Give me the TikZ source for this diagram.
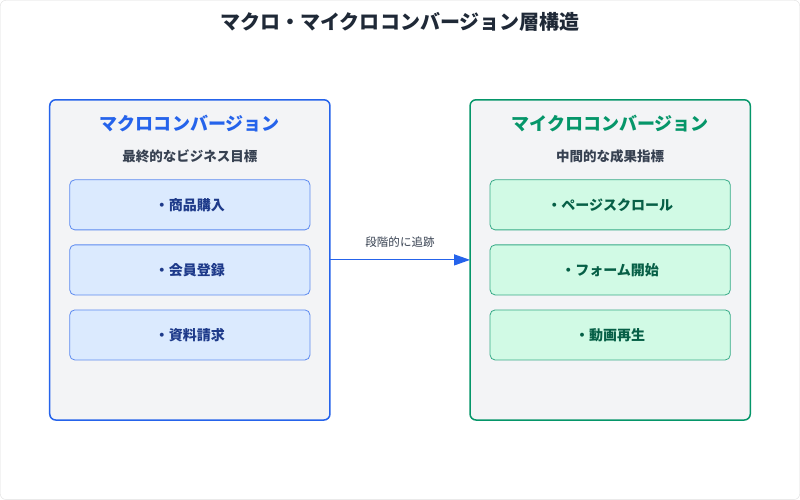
\documentclass[tikz,border=0pt]{standalone}
\usepackage{fontspec}
\setmainfont{Noto Sans CJK JP}
\usetikzlibrary{arrows.meta}
\definecolor{bblue}{HTML}{2563EB}
\definecolor{bgreen}{HTML}{059669}
\definecolor{panel}{HTML}{F3F4F6}
\definecolor{iblue}{HTML}{DBEAFE}
\definecolor{igreen}{HTML}{D1FAE5}
\definecolor{tblue}{HTML}{1E3A8A}
\definecolor{tgreen}{HTML}{065F46}
\definecolor{dark}{HTML}{1F2937}
\definecolor{mid}{HTML}{374151}
\begin{document}
\begin{tikzpicture}[x=1pt,y=-1pt,
 panelL/.style={draw=bblue,line width=1.5pt,fill=panel,rounded corners=6pt},
 panelR/.style={draw=bgreen,line width=1.5pt,fill=panel,rounded corners=6pt},
 itemL/.style={draw=bblue!75,line width=0.8pt,fill=iblue,rounded corners=5pt,minimum width=240pt,minimum height=50pt,text=tblue,font=\bfseries\fontsize{14}{16}\selectfont},
 itemR/.style={draw=bgreen!80,line width=0.8pt,fill=igreen,rounded corners=5pt,minimum width=240pt,minimum height=50pt,text=tgreen,font=\bfseries\fontsize{14}{16}\selectfont},
 ttl/.style={font=\bfseries\fontsize{18}{21}\selectfont},
 sub/.style={text=mid,font=\bfseries\fontsize{13.5}{16}\selectfont}]
\path[use as bounding box,fill=white,draw=gray!25,rounded corners=6pt] (0.5,0.5) rectangle (799.5,499.5);
\node[font=\bfseries\fontsize{20}{24}\selectfont,text=dark] (title) at (400,22) {マクロ・マイクロコンバージョン層構造};
\draw[panelL] (50,100) rectangle (330,420);
\coordinate (L) at (330,260);
\node[ttl,text=bblue] (lt) at (190,124) {マクロコンバージョン};
\node[sub] (ls) at (190,157) {最終的なビジネス目標};
\node[itemL] (l1) at (190,205) {・商品購入};
\node[itemL] (l2) at (190,270) {・会員登録};
\node[itemL] (l3) at (190,335) {・資料請求};
\draw[panelR] (470,100) rectangle (750,420);
\coordinate (R) at (470,260);
\node[ttl,text=bgreen] (rt) at (610,124) {マイクロコンバージョン};
\node[sub] (rs) at (610,157) {中間的な成果指標};
\node[itemR] (r1) at (610,205) {・ページスクロール};
\node[itemR] (r2) at (610,270) {・フォーム開始};
\node[itemR] (r3) at (610,335) {・動画再生};
\draw[bblue,line width=1.2pt,-{Triangle[length=16pt,width=11pt]}] (L) -- (R)
 node[midway,above=9pt,text=mid,font=\fontsize{11.5}{13}\selectfont] (al) {段階的に追跡};
\end{tikzpicture}
\end{document}
